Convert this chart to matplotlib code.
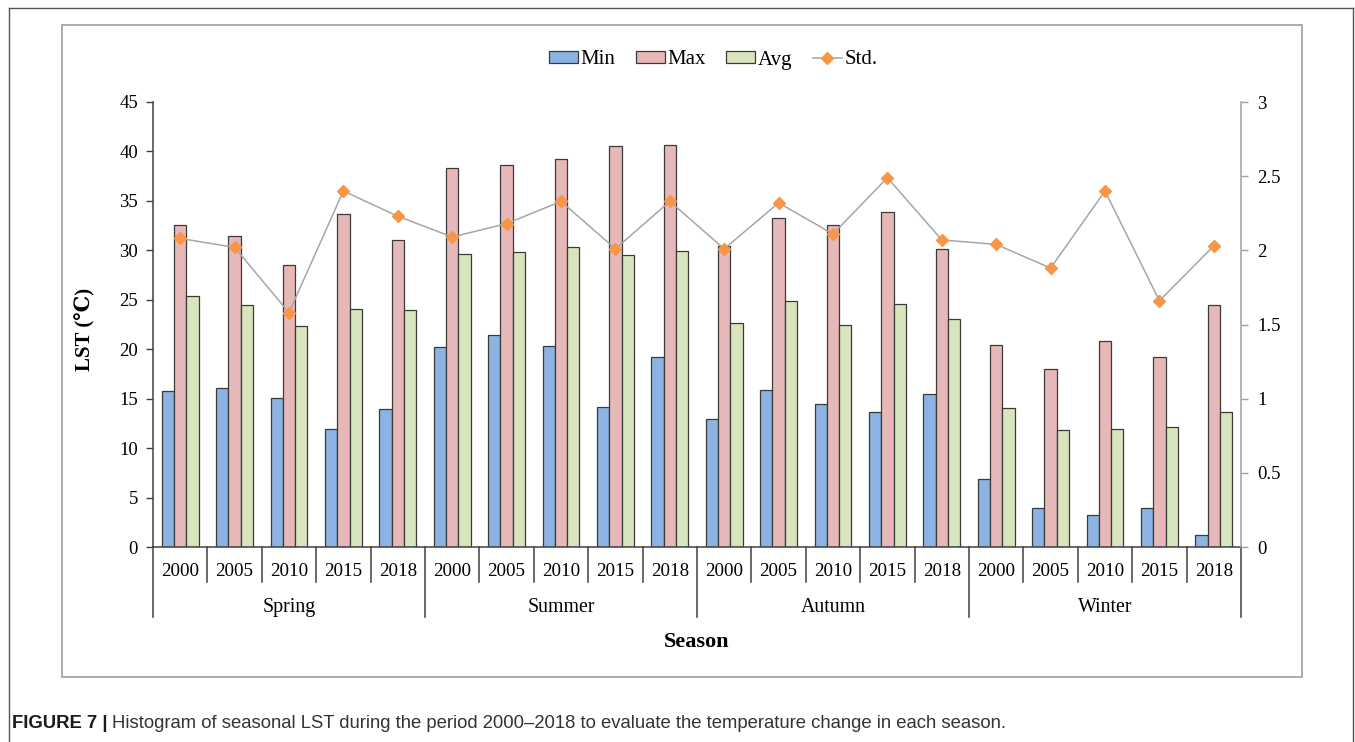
"""
plot.py

Seasonal LST histogram (Min / Max / Avg bars, Std on secondary axis).
"""

import numpy as np
import matplotlib
matplotlib.use('Agg')
import matplotlib.pyplot as plt
from matplotlib.lines import Line2D
from matplotlib.patches import Rectangle

# Data
seasons = ['Spring', 'Summer', 'Autumn', 'Winter']
years = ['2000', '2005', '2010', '2015', '2018']

lst_min = [15.8, 16.1, 15.1, 11.9, 14.0,
           20.2, 21.4, 20.3, 14.2, 19.2,
           12.9, 15.9, 14.5, 13.7, 15.5,
           6.9, 3.9, 3.2, 3.9, 1.2]
lst_max = [32.6, 31.4, 28.5, 33.7, 31.0,
           38.3, 38.6, 39.2, 40.6, 40.7,
           30.4, 33.3, 32.6, 33.9, 30.1,
           20.4, 18.0, 20.8, 19.2, 24.5]
lst_avg = [25.4, 24.5, 22.3, 24.1, 24.0,
           29.6, 29.8, 30.3, 29.5, 29.9,
           22.7, 24.9, 22.5, 24.6, 23.1,
           14.1, 11.8, 11.9, 12.1, 13.7]
lst_std = [2.08, 2.02, 1.58, 2.40, 2.23,
           2.09, 2.18, 2.33, 2.01, 2.33,
           2.01, 2.32, 2.11, 2.49, 2.07,
           2.04, 1.88, 2.40, 1.66, 2.03]

left_ticks = list(range(0, 50, 5))
right_ticks = [0, 0.5, 1, 1.5, 2, 2.5, 3]
right_ticklabels = ['0', '0.5', '1', '1.5', '2', '2.5', '3']

# Styling
C_MIN = '#8DB3E2'
C_MAX = '#E6B8B7'
C_AVG = '#D8E4BC'
C_STD = '#F79646'
C_LINE = '#A6A6A6'
EDGE = '#3A3A3A'
SERIF = ['Liberation Serif', 'DejaVu Serif']
SANS = ['Liberation Sans', 'DejaVu Sans']

plt.rcParams['font.family'] = SERIF

W, H = 1355, 742
fig = plt.figure(figsize=(W / 100, H / 100), dpi=100)

# Axes box in pixels: left 153, right 1241, top 102, bottom 547
ax = fig.add_axes([153 / W, 1 - 547 / H, (1241 - 153) / W, (547 - 102) / H])
ax2 = ax.twinx()

x = np.arange(len(lst_min))
bw = 0.225
ax.bar(x - bw, lst_min, bw, color=C_MIN, edgecolor=EDGE, linewidth=0.9, label='Min', zorder=2)
ax.bar(x, lst_max, bw, color=C_MAX, edgecolor=EDGE, linewidth=0.9, label='Max', zorder=2)
ax.bar(x + bw, lst_avg, bw, color=C_AVG, edgecolor=EDGE, linewidth=0.9, label='Avg', zorder=2)

ax2.plot(x, lst_std, color=C_LINE, linewidth=1.1, marker='D', markersize=6.5,
         markerfacecolor=C_STD, markeredgecolor=C_STD, label='Std.', zorder=3)

ax.set_xlim(-0.5, len(x) - 0.5)
ax.set_ylim(0, 45)
ax2.set_ylim(0, 3)

ax.set_yticks(left_ticks)
ax.set_yticklabels([str(t) for t in left_ticks])
ax2.set_yticks(right_ticks)
ax2.set_yticklabels(right_ticklabels)

ax.set_xticks([])
for a in (ax, ax2):
    a.spines['top'].set_visible(False)
ax.spines['right'].set_visible(False)
ax2.spines['left'].set_visible(False)
ax2.spines['bottom'].set_visible(False)
ax.spines['left'].set_color('#404040')
ax.spines['bottom'].set_color('#404040')
ax.spines['left'].set_linewidth(1.1)
ax.spines['bottom'].set_linewidth(1.1)
ax2.spines['right'].set_color('#A0A0A0')
ax2.spines['right'].set_linewidth(1.1)

ax.tick_params(axis='y', direction='out', length=4.8, width=1.0, color='#404040',
               labelsize=13.5, pad=6)
ax2.tick_params(axis='y', direction='out', length=4.8, width=1.0, color='#A0A0A0',
                labelsize=13.5, pad=7)

ax.set_ylabel('LST (℃)', fontsize=15, fontweight='bold')
ax.yaxis.set_label_coords(-0.053, 0.49)

# Category axis: year labels, season labels and separators
trans = ax.get_xaxis_transform()
for i in range(len(x) + 1):
    bottom = -0.157 if i % 5 == 0 else -0.079
    ax.plot([i - 0.5, i - 0.5], [0, bottom], color='#404040', linewidth=1.1,
            transform=trans, clip_on=False)
for i in range(len(x)):
    ax.text(i, -0.056, years[i % 5], transform=trans, ha='center', va='center',
            fontsize=13.7)
for s, name in enumerate(seasons):
    ax.text(s * 5 + 2, -0.135, name, transform=trans, ha='center', va='center',
            fontsize=14.3)
ax.text(0.5, -0.2135, 'Season', transform=ax.transAxes, ha='center', va='center',
        fontsize=16, fontweight='bold')

# Legend
handles = [Rectangle((0, 0), 1, 1, facecolor=C_MIN, edgecolor=EDGE, linewidth=0.9),
           Rectangle((0, 0), 1, 1, facecolor=C_MAX, edgecolor=EDGE, linewidth=0.9),
           Rectangle((0, 0), 1, 1, facecolor=C_AVG, edgecolor=EDGE, linewidth=0.9),
           Line2D([], [], color=C_LINE, linewidth=1.1, marker='D', markersize=6,
                  markerfacecolor=C_STD, markeredgecolor=C_STD)]
fig.legend(handles, ['Min', 'Max', 'Avg', 'Std.'], loc='center', ncol=4,
           bbox_to_anchor=(713 / W, 1 - 60 / H), frameon=False, fontsize=15,
           handlelength=1.4, handleheight=0.5, handletextpad=0.1, columnspacing=1.0)

# Chart frame (grey) and outer page border
fig.add_artist(Rectangle((62 / W, 1 - 677 / H), (1302 - 62) / W, (677 - 25) / H,
                         transform=fig.transFigure, fill=False,
                         edgecolor='#A6A6A6', linewidth=1.3))
border = dict(transform=fig.transFigure, color='#555555', linewidth=1.0)
fig.add_artist(Line2D([9 / W, 9 / W], [0, 1 - 8 / H], **border))
fig.add_artist(Line2D([9 / W, 1353 / W], [1 - 8 / H, 1 - 8 / H], **border))
fig.add_artist(Line2D([1353 / W, 1353 / W], [0, 1 - 8 / H], **border))

# Caption: bold figure number, regular description
renderer = fig.canvas.get_renderer()
cap_y = 1 - 724 / H
t1 = fig.text(12 / W, cap_y, 'FIGURE 7 |', fontsize=13.3, fontweight='bold',
              family=SANS, color='#1a1a1a', va='center', ha='left')
ext = t1.get_window_extent(renderer=renderer)
fig.text((ext.x1 + 5) / W, cap_y,
         'Histogram of seasonal LST during the period 2000\u20132018 to evaluate '
         'the temperature change in each season.',
         fontsize=13.3, family=SANS, color='#333333', va='center', ha='left')

fig.savefig('out.png', dpi=100)
